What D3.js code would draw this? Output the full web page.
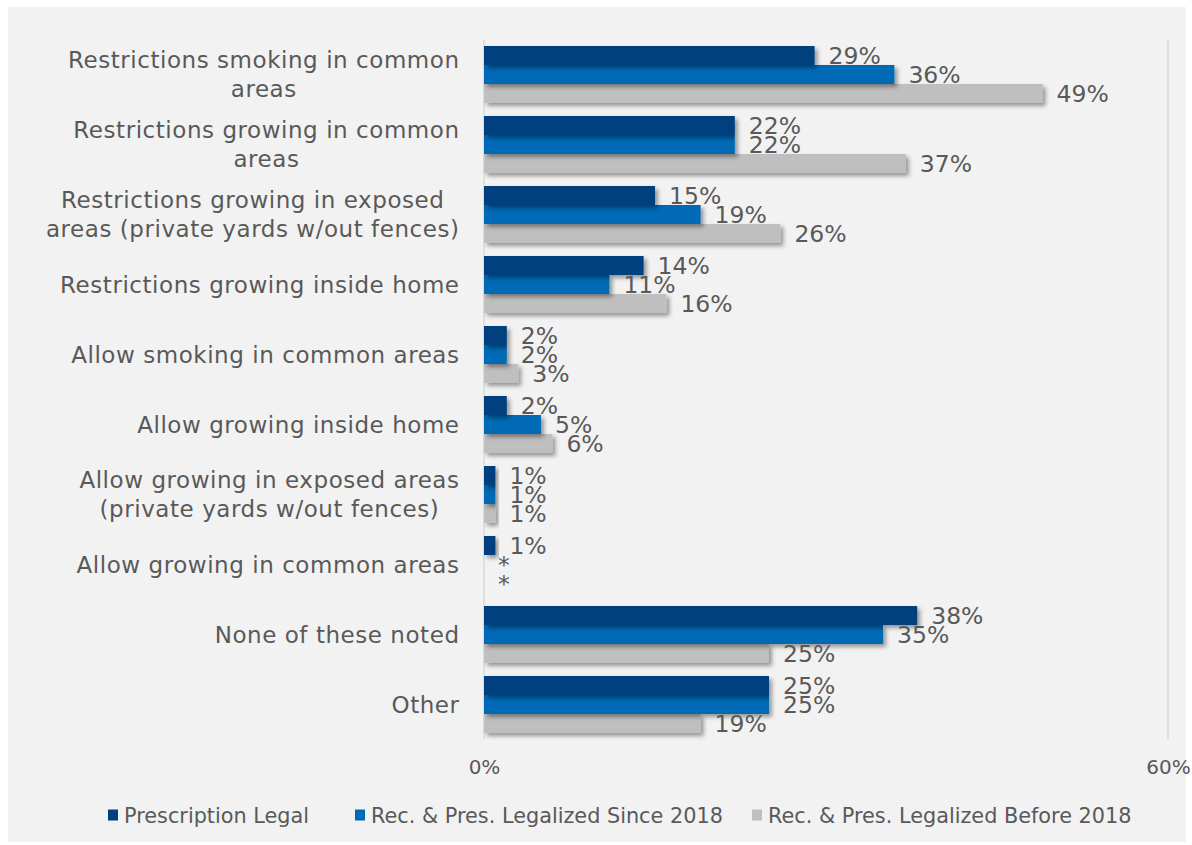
<!DOCTYPE html>
<html><head><meta charset="utf-8">
<script src="https://cdn.jsdelivr.net/npm/d3@7"></script>
<style>body{margin:0;background:#fff;}svg{display:block;}</style>
</head><body>
<svg id="c" width="1192" height="845"></svg>
<script>
const categories = [
  ["Restrictions smoking in common","areas"],
  ["Restrictions growing in common","areas"],
  ["Restrictions growing in exposed","areas (private yards w/out fences)"],
  ["Restrictions growing inside home"],
  ["Allow smoking in common areas"],
  ["Allow growing inside home"],
  ["Allow growing in exposed areas","(private yards w/out fences)"],
  ["Allow growing in common areas"],
  ["None of these noted"],
  ["Other"]
];
const seriesNames = ["Prescription Legal","Rec. & Pres. Legalized Since 2018","Rec. & Pres. Legalized Before 2018"];
const prescriptionLegal = [29,22,15,14,2,2,1,1,38,25];
const legalizedSince2018 = [36,22,19,11,2,5,1,null,35,25];
const legalizedBefore2018 = [49,37,26,16,3,6,1,null,25,19];
const colors = ["#003f7f","#006bb6","#bfbfbf"];
const tickValues = [0,60];

const series = [prescriptionLegal, legalizedSince2018, legalizedBefore2018];
const svg = d3.select("#c");
const font = "'DejaVu Sans', sans-serif";

const defs = svg.append("defs");
const f = defs.append("filter").attr("id","sh").attr("x","-20%").attr("y","-50%").attr("width","150%").attr("height","250%");
f.append("feDropShadow").attr("dx",3).attr("dy",3).attr("stdDeviation",2.2).attr("flood-color","#000").attr("flood-opacity",0.38);

svg.append("rect").attr("x",8).attr("y",7).attr("width",1178).attr("height",835).attr("fill","#f2f2f2");

const x = d3.scaleLinear().domain([0,60]).range([484,1168]);
const y = d3.scaleBand().domain(d3.range(categories.length)).range([39.5,739.5]).paddingInner(13/70).paddingOuter(6.5/70);
const sub = d3.scaleBand().domain(d3.range(3)).range([0,y.bandwidth()]);

// gridlines
svg.append("g").selectAll("line").data(tickValues).join("line")
  .attr("x1",d=>x(d)).attr("x2",d=>x(d)).attr("y1",40).attr("y2",739)
  .attr("stroke","#d9d9d9").attr("stroke-width",1.5);

// flat records
const recs = [];
categories.forEach((c,i)=>series.forEach((s,k)=>recs.push({i,k,v:s[i]})));

const barRecs = recs.filter(r=>r.v!==null).sort((a,b)=>b.k-a.k);
svg.append("g").selectAll("rect").data(barRecs).join("rect")
  .attr("x",x(0))
  .attr("y",r=>y(r.i)+sub(r.k))
  .attr("width",r=>x(r.v)-x(0))
  .attr("height",sub.bandwidth())
  .attr("fill",r=>colors[r.k])
  .attr("filter","url(#sh)");

svg.append("g").selectAll("text").data(recs).join("text")
  .attr("x",r=>x(r.v===null?0:r.v)+14)
  .attr("y",r=>y(r.i)+sub(r.k)+sub.bandwidth()/2)
  .attr("dy","0.36em")
  .attr("font-family",font).attr("font-size",23.5).attr("fill","#595959")
  .text(r=>r.v===null?"*":r.v+"%");

// category labels: block right-aligned at 459, lines centred within block
const ls = 0.55;
const cl = svg.append("g").selectAll("g").data(categories).join("g");
cl.each(function(d,i){
  const g = d3.select(this);
  const cy = y(i)+y.bandwidth()/2;
  const n = d.length;
  const ts = d.map((line,k)=>g.append("text")
    .attr("font-family",font).attr("font-size",23).attr("letter-spacing",ls).attr("fill","#595959")
    .attr("text-anchor","middle")
    .attr("y",cy + (k-(n-1)/2)*29).attr("dy","0.36em").text(line));
  const w = d3.max(ts, t=>t.node().getComputedTextLength());
  ts.forEach(t=>t.attr("x",459 + ls - w/2));
});

// axis tick labels
const axis = d3.axisBottom(x).tickValues(tickValues).tickFormat(d=>d+"%").tickSize(0).tickPadding(0);
const ag = svg.append("g").attr("transform","translate(0,767)").call(axis);
ag.select(".domain").remove();
ag.selectAll("text").attr("font-family",font).attr("font-size",20).attr("fill","#595959").attr("dy","0.36em").attr("y",0);

// legend
const legX = [108,355,752];
const lg = svg.append("g").selectAll("g").data(seriesNames).join("g")
  .attr("transform",(d,i)=>`translate(${legX[i]},815)`);
lg.append("rect").attr("x",0).attr("y",-5.5).attr("width",10).attr("height",11).attr("fill",(d,i)=>colors[i]);
lg.append("text").attr("x",16).attr("y",0).attr("dy","0.36em").attr("font-family",font).attr("font-size",20.8).attr("fill","#595959").text(d=>d);
</script>
</body></html>
